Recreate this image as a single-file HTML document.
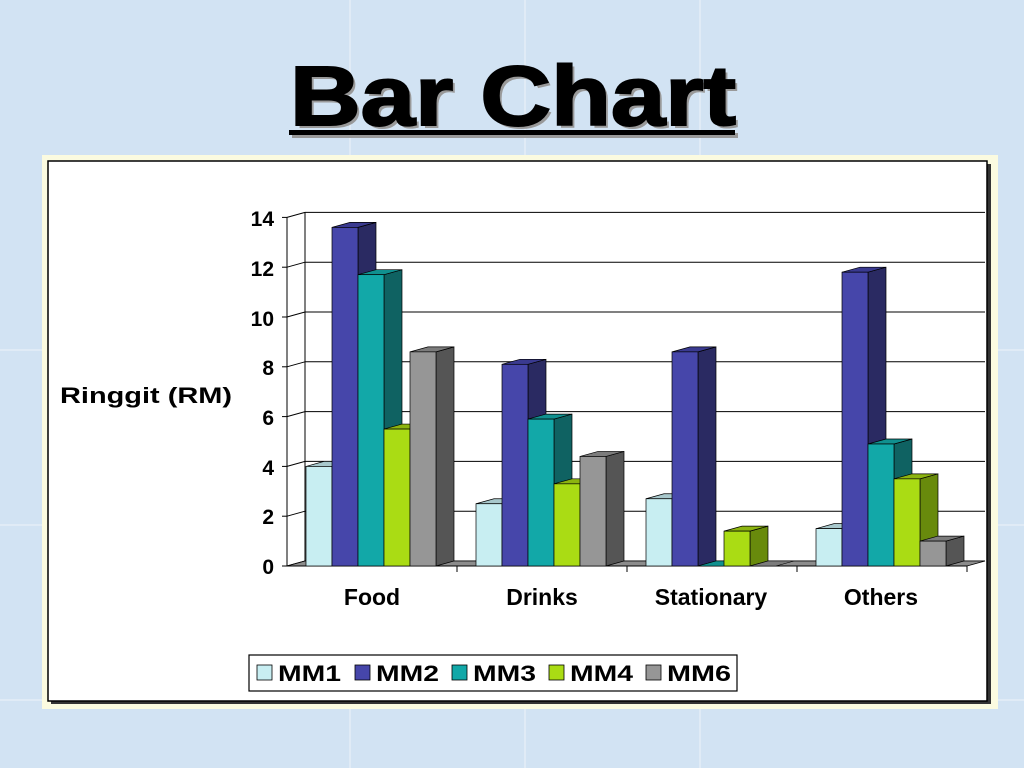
<!DOCTYPE html>
<html><head><meta charset="utf-8"><style>
html,body{margin:0;padding:0;width:1024px;height:768px;overflow:hidden;background:#d3e3f3;}
svg{display:block}
text{font-family:"Liberation Sans",Arial,sans-serif;font-weight:bold;}
</style></head><body>
<svg id="s" width="1024" height="768" viewBox="0 0 1024 768" xmlns="http://www.w3.org/2000/svg">
<rect width="1024" height="768" fill="#d2e3f3"/>
<g stroke="#e4eef8" stroke-width="1.5">
<line x1="350" y1="0" x2="350" y2="768"/><line x1="525" y1="0" x2="525" y2="768"/><line x1="700" y1="0" x2="700" y2="768"/>
<line x1="0" y1="350" x2="1024" y2="350"/><line x1="0" y1="525" x2="1024" y2="525"/><line x1="0" y1="700" x2="1024" y2="700"/>
</g>
<!-- title -->
<text x="293" y="128" font-size="84" fill="#999" textLength="446" lengthAdjust="spacingAndGlyphs">Bar Chart</text>
<text x="290" y="125" font-size="84" fill="#000" stroke="#000" stroke-width="2" textLength="446" lengthAdjust="spacingAndGlyphs">Bar Chart</text>
<rect x="292" y="133" width="446" height="5" fill="#999"/>
<rect x="289" y="130" width="446" height="5" fill="#000"/>
<!-- chart box -->
<rect x="42" y="155" width="956" height="554" fill="#fbfbe0"/>
<rect x="51" y="164" width="940" height="540" fill="#333"/>
<rect x="48" y="161" width="939" height="540" fill="#fff" stroke="#000" stroke-width="1.5"/>
<g id="plot"></g>
<text x="60" y="403" font-size="22" fill="#000" textLength="172" lengthAdjust="spacingAndGlyphs">Ringgit (RM)</text>
<g font-size="21" fill="#000" text-anchor="end">
<text x="274" y="574">0</text><text x="274" y="524">2</text><text x="274" y="475">4</text><text x="274" y="425">6</text><text x="274" y="375">8</text><text x="274" y="326">10</text><text x="274" y="276">12</text><text x="274" y="226">14</text>
</g>
<g font-size="23" fill="#000" text-anchor="middle">
<text x="372" y="605">Food</text><text x="542" y="605">Drinks</text><text x="711" y="605">Stationary</text><text x="881" y="605">Others</text>
</g>
<rect x="249" y="655" width="488" height="36" fill="#fff" stroke="#000" stroke-width="1.2"/>
<g stroke="#000" stroke-width="0.8">
<rect x="257" y="665" width="15" height="15" fill="#c8eef2"/>
<rect x="355" y="665" width="15" height="15" fill="#4646aa"/>
<rect x="452" y="665" width="15" height="15" fill="#12a8a8"/>
<rect x="549" y="665" width="15" height="15" fill="#aadc14"/>
<rect x="646" y="665" width="15" height="15" fill="#969696"/>
</g>
<g font-size="22" fill="#000">
<text x="278" y="681" textLength="63" lengthAdjust="spacingAndGlyphs">MM1</text><text x="376" y="681" textLength="63" lengthAdjust="spacingAndGlyphs">MM2</text><text x="473" y="681" textLength="63" lengthAdjust="spacingAndGlyphs">MM3</text><text x="570" y="681" textLength="63" lengthAdjust="spacingAndGlyphs">MM4</text><text x="667" y="681" textLength="64" lengthAdjust="spacingAndGlyphs">MM6</text>
</g>
</svg>
<script>
(function(){
var g=document.getElementById('plot'),NS='http://www.w3.org/2000/svg';
function el(t,a){var e=document.createElementNS(NS,t);for(var k in a)e.setAttribute(k,a[k]);g.appendChild(e);return e;}
var X0=287,Y0=566,DX=18,DY=-5,U=24.9,R=985;
for(var i=0;i<=14;i+=2){var y=Y0+DY-i*U;
 el('line',{x1:X0+DX,y1:y,x2:R,y2:y,stroke:'#000','stroke-width':1});
 el('line',{x1:X0,y1:Y0-i*U,x2:X0+DX,y2:y,stroke:'#000','stroke-width':1});
 el('line',{x1:X0-5,y1:Y0-i*U,x2:X0,y2:Y0-i*U,stroke:'#000','stroke-width':1});}
el('line',{x1:X0+DX,y1:Y0+DY,x2:X0+DX,y2:Y0+DY-14*U,stroke:'#000','stroke-width':1});
el('line',{x1:X0,y1:Y0,x2:X0,y2:Y0-14*U,stroke:'#000','stroke-width':1});
el('polygon',{points:[X0,Y0,X0+DX,Y0+DY,R,Y0+DY,R-DX,Y0].join(' '),fill:'#8c8c8c',stroke:'#000','stroke-width':0.8});
el('line',{x1:X0,y1:Y0,x2:R-DX,y2:Y0,stroke:'#000','stroke-width':1});
[457,627,797,967].forEach(function(x){el('line',{x1:x,y1:Y0,x2:x,y2:Y0+6,stroke:'#000','stroke-width':1});});
var data=[[4,13.6,11.7,5.5,8.6],[2.5,8.1,5.9,3.3,4.4],[2.7,8.6,0,1.4,0],[1.5,11.8,4.9,3.5,1.0]];
var F=['#c8eef2','#4646aa','#12a8a8','#aadc14','#969696'];
var S=['#8fb0b4','#2a2a62','#0f6262','#688a0c','#555555'];
var T=['#a8c8cc','#3a3a90','#10908f','#8cb410','#7c7c7c'];
var BW=26;
data.forEach(function(d,c){
 var gx=306+c*170;
 d.forEach(function(v,s){
  var x=gx+s*BW, h=v*U, yt=Y0-h;
  if(v===0){el('polygon',{points:[x,Y0,x+DX,Y0+DY,x+BW+DX,Y0+DY,x+BW,Y0].join(' '),fill:T[s],stroke:'#000','stroke-width':0.6});return;}
  el('polygon',{points:[x+BW,Y0,x+BW+DX,Y0+DY,x+BW+DX,yt+DY,x+BW,yt].join(' '),fill:S[s],stroke:'#000','stroke-width':0.7});
  el('polygon',{points:[x,yt,x+DX,yt+DY,x+BW+DX,yt+DY,x+BW,yt].join(' '),fill:T[s],stroke:'#000','stroke-width':0.7});
  el('rect',{x:x,y:yt,width:BW,height:h,fill:F[s],stroke:'#000','stroke-width':0.7});
 });
});
})();
</script>
</body></html>
